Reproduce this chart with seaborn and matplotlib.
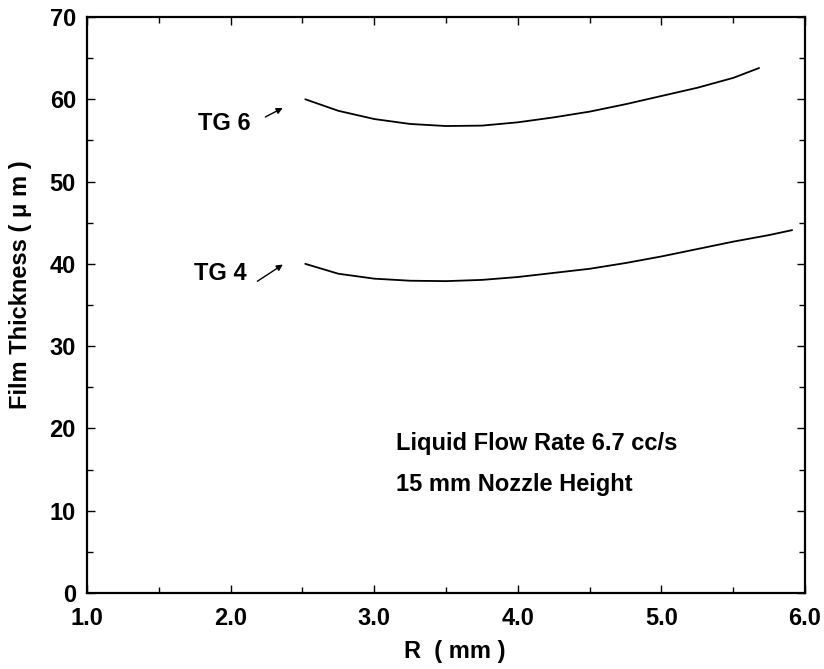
import matplotlib
matplotlib.use("Agg")
import matplotlib.pyplot as plt
import seaborn as sns
import pandas as pd
from matplotlib.ticker import MultipleLocator, FormatStrFormatter

sns.set_theme(style="ticks")
plt.rcParams['font.family'] = ['Liberation Sans', 'DejaVu Sans']
plt.rcParams['font.weight'] = 'bold'
plt.rcParams['text.color'] = 'black'
plt.rcParams['axes.labelcolor'] = 'black'
plt.rcParams['xtick.color'] = 'black'
plt.rcParams['ytick.color'] = 'black'

# Data
tg6_r = [2.52, 2.75, 3.0, 3.25, 3.5, 3.75, 4.0, 4.25, 4.5, 4.75, 5.0, 5.25, 5.5, 5.68]
tg6_t = [60.0, 58.6, 57.6, 57.0, 56.75, 56.8, 57.2, 57.8, 58.5, 59.4, 60.4, 61.4, 62.6, 63.8]
tg4_r = [2.52, 2.75, 3.0, 3.25, 3.5, 3.75, 4.0, 4.25, 4.5, 4.75, 5.0, 5.25, 5.5, 5.75, 5.91]
tg4_t = [40.0, 38.8, 38.2, 37.95, 37.9, 38.05, 38.4, 38.9, 39.4, 40.1, 40.9, 41.8, 42.7, 43.5, 44.1]
series_names = ["TG 6", "TG 4"]

df = pd.concat([
    pd.DataFrame({"R": tg6_r, "T": tg6_t, "series": series_names[0]}),
    pd.DataFrame({"R": tg4_r, "T": tg4_t, "series": series_names[1]}),
])

fig = plt.figure(figsize=(8.24, 6.69), dpi=100)
ax = fig.add_axes([0.1056, 0.1136, 0.8714, 0.861])

sns.lineplot(data=df, x="R", y="T", hue="series", palette=["black", "black"],
             legend=False, ax=ax, linewidth=1.3, sort=False, estimator=None)

ax.set_xlim(1.0, 6.0)
ax.set_ylim(0, 70)
ax.xaxis.set_major_locator(MultipleLocator(1.0))
ax.xaxis.set_minor_locator(MultipleLocator(0.5))
ax.yaxis.set_major_locator(MultipleLocator(10))
ax.yaxis.set_minor_locator(MultipleLocator(5))
ax.xaxis.set_major_formatter(FormatStrFormatter('%.1f'))
ax.tick_params(which='both', direction='in', top=True, right=True, width=1.0, color='black')
ax.tick_params(which='major', length=6, labelsize=17)
ax.tick_params(axis='x', which='major', pad=10)
ax.tick_params(axis='y', which='major', pad=8)
ax.tick_params(which='minor', length=4)
for lab in ax.get_xticklabels() + ax.get_yticklabels():
    lab.set_fontweight('bold')
for s in ax.spines.values():
    s.set_linewidth(1.6)
    s.set_color('black')

ax.set_xlabel("R  ( mm )", fontsize=17, fontweight='bold')
ax.set_ylabel("Film Thickness ( μ m )", fontsize=17, fontweight='bold')
ax.xaxis.set_label_coords(0.5125, -0.081)
ax.yaxis.set_label_coords(-0.077, 0.536)

ax.annotate("", xy=(2.38, 59.1), xytext=(2.225, 57.7),
            arrowprops=dict(arrowstyle='-|>', color='black', lw=1.0, mutation_scale=9))
ax.annotate("", xy=(2.38, 40.1), xytext=(2.17, 37.7),
            arrowprops=dict(arrowstyle='-|>', color='black', lw=1.0, mutation_scale=9))
ax.text(2.14, 57.1, "TG 6", ha='right', va='center', fontsize=17, fontweight='bold')
ax.text(2.11, 38.8, "TG 4", ha='right', va='center', fontsize=17, fontweight='bold')

ax.text(3.15, 18.2, "Liquid Flow Rate 6.7 cc/s", ha='left', va='center', fontsize=17, fontweight='bold')
ax.text(3.15, 13.2, "15 mm Nozzle Height", ha='left', va='center', fontsize=17, fontweight='bold')

fig.savefig("out.png", dpi=100)
